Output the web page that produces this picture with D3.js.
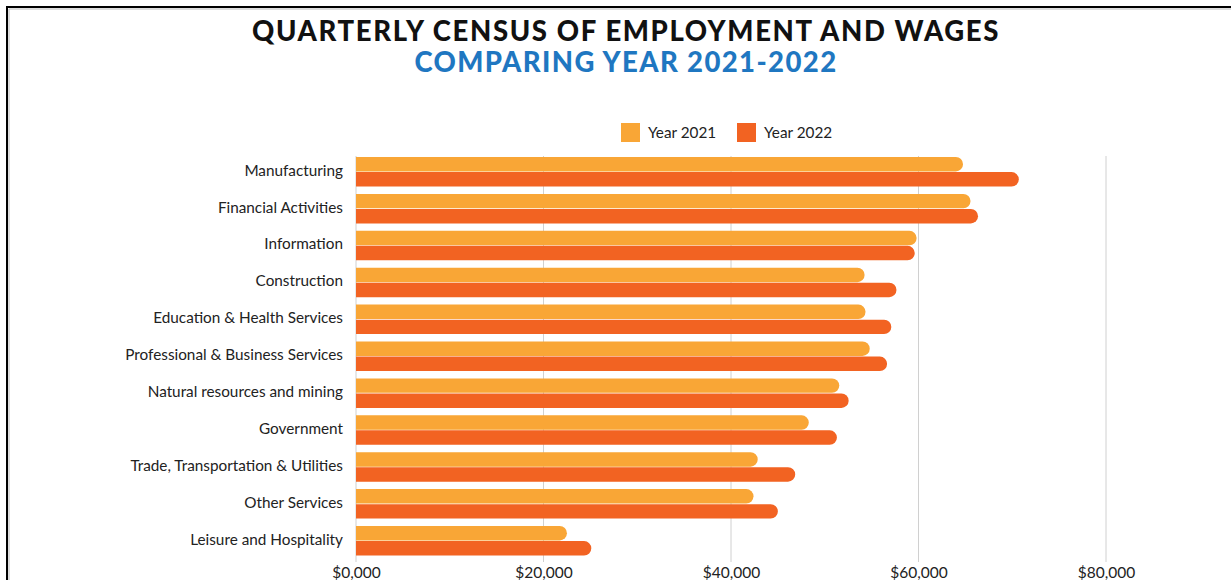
<!DOCTYPE html>
<html><head><meta charset="utf-8">
<script src="https://cdn.jsdelivr.net/npm/d3@7"></script>
<style>body{margin:0;background:#fff;}svg{display:block;}</style>
</head><body><svg id="c" width="1231" height="580"></svg>
<script>
const categories = ["Manufacturing","Financial Activities","Information","Construction","Education & Health Services","Professional & Business Services","Natural resources and mining","Government","Trade, Transportation & Utilities","Other Services","Leisure and Hospitality"];
const series = ["Year 2021","Year 2022"];
const values2021 = [64750,65550,59800,54250,54350,54800,51550,48300,42850,42400,22500];
const values2022 = [70700,66350,59600,57650,57100,56650,52550,51300,46850,45000,25100];
const tickValues = [0,20000,40000,60000,80000];
const tickLabels = ["$0,000","$20,000","$40,000","$60,000","$80,000"];
const colors = ["#F9A636","#F26322"];

const svg = d3.select("#c");
const font = "Lato, 'Open Sans', sans-serif";

// frame
svg.append("path").attr("d","M7,580 L7,7 L1231,7").attr("fill","none").attr("stroke","#000").attr("stroke-width",2);
svg.append("path").attr("d","M9,580 L9,9 L1231,9").attr("fill","none").attr("stroke","#bbb").attr("stroke-width",1);

// titles: fixed size, spread with letter-spacing to the reference width
function spread(t, w){ const n=t.node(); const l=n.getComputedTextLength(); const chars=t.text().length; t.attr("letter-spacing", (w-l)/chars); }
const t1 = svg.append("text").attr("x",626).attr("y",40.5).attr("text-anchor","middle").attr("font-family",font).attr("font-weight",900).attr("font-size",27.5).attr("fill","#111").text("QUARTERLY CENSUS OF EMPLOYMENT AND WAGES");
spread(t1,748);
const t2 = svg.append("text").attr("x",626).attr("y",71.5).attr("text-anchor","middle").attr("font-family",font).attr("font-weight",900).attr("font-size",27.5).attr("fill","#1F77C1").text("COMPARING YEAR 2021-2022");
spread(t2,423);

const x = d3.scaleLinear().domain([0,80000]).range([356,1106]);
const y0 = d3.scaleBand().domain(categories).range([153.3,559.2]).paddingInner(0.2).paddingOuter(0.1);
const y1 = d3.scaleBand().domain(series).range([0,y0.bandwidth()]).paddingInner(0.04);

// grid
svg.append("g").selectAll("line").data(tickValues).join("line")
  .attr("x1",d=>x(d)).attr("x2",d=>x(d)).attr("y1",156).attr("y2",562)
  .attr("stroke","#d0d0d0").attr("stroke-width",1);

// axis labels
const ax = d3.axisBottom(x).tickValues(tickValues).tickFormat((d,i)=>tickLabels[i]).tickSize(0).tickPadding(0);
const axg = svg.append("g").attr("transform","translate(0,565)").call(ax);
axg.select(".domain").remove();
axg.selectAll("text").attr("font-family",font).attr("font-size",15.5).attr("fill","#222").attr("dy","0.82em");

// bars
function barPath(x0,x1,yt,h){ const r=Math.min(h/2,x1-x0); return `M${x0},${yt} L${x1-r},${yt} A${r},${r} 0 0 1 ${x1},${yt+r} L${x1},${yt+h-r} A${r},${r} 0 0 1 ${x1-r},${yt+h} L${x0},${yt+h} Z`; }
const rows = categories.map((c,i)=>({c, v:[values2021[i],values2022[i]]}));
const g = svg.append("g").selectAll("g").data(rows).join("g").attr("transform",d=>`translate(0,${y0(d.c)})`);
g.selectAll("path").data(d=>d.v.map((v,j)=>({s:series[j],v,j}))).join("path")
  .attr("d",d=>barPath(x(0),x(d.v),y1(d.s),y1.bandwidth()))
  .attr("fill",d=>colors[d.j]);

// category labels
const yl = d3.axisLeft(y0).tickSize(0).tickPadding(0);
const ylg = svg.append("g").attr("transform","translate(343,-1)").call(yl);
ylg.select(".domain").remove();
ylg.selectAll("text").attr("font-family",font).attr("font-size",15.3).attr("fill","#222");

// legend
const leg = svg.append("g").selectAll("g").data(series).join("g").attr("transform",(d,i)=>`translate(${[621,737][i]},123)`);
leg.append("rect").attr("width",19).attr("height",19).attr("fill",(d,i)=>colors[i]);
leg.append("text").attr("x",27).attr("y",15).attr("font-family",font).attr("font-size",15.3).attr("fill","#222").text(d=>d);
</script></body></html>
